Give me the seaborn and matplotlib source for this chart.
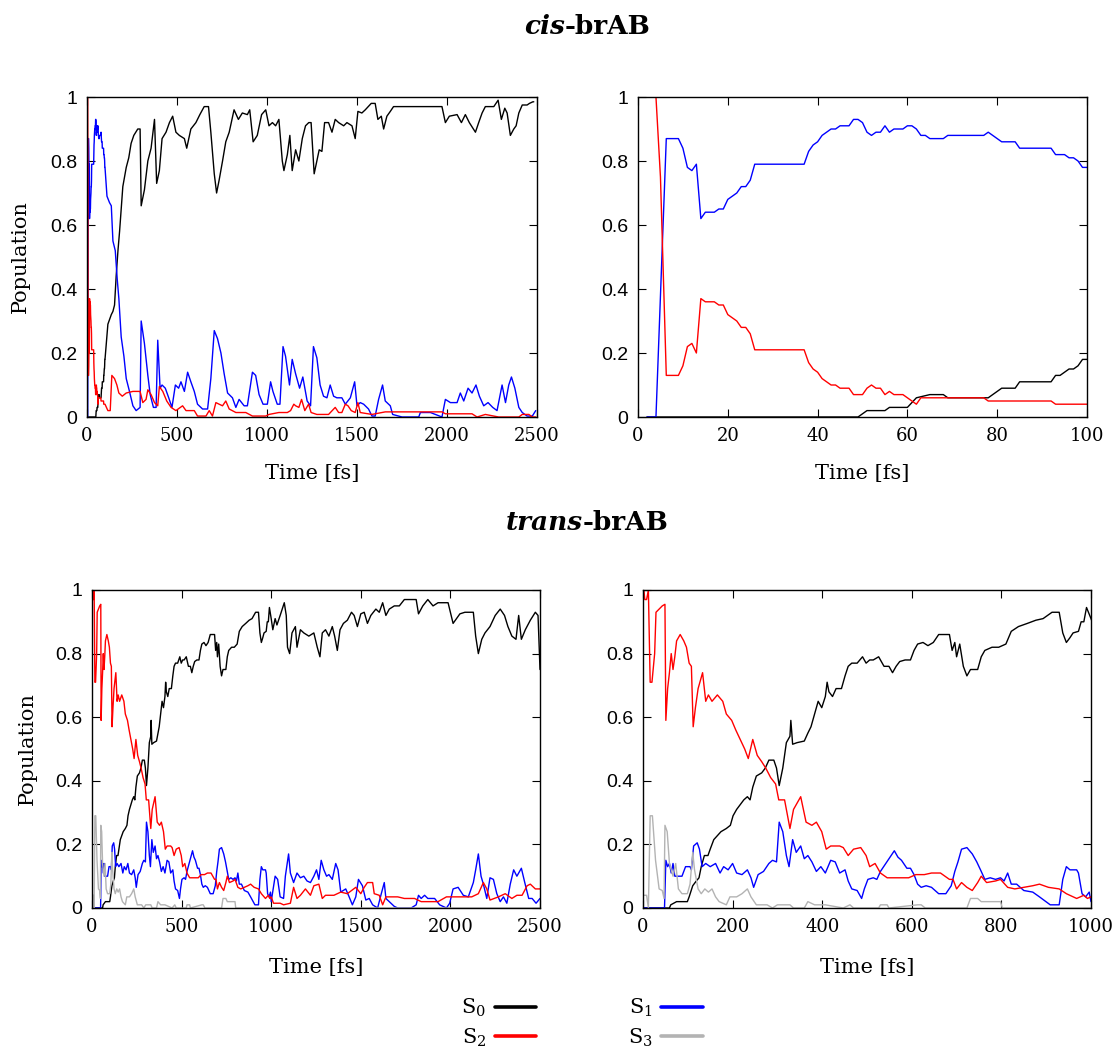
import numpy as np
import pandas as pd
import matplotlib
matplotlib.use("Agg")
import matplotlib.pyplot as plt
import seaborn as sns

# ---------------- cis-brAB state populations (time [fs], population) ----------------
cis_s0 = [(2, 0), (49, 0), (51, 0.02), (55, 0.02), (56, 0.03), (60, 0.03), (62, 0.06), (65, 0.07),
          (68, 0.07), (69, 0.06), (78, 0.06), (79, 0.07), (81, 0.09), (84, 0.09), (85, 0.11), (92, 0.11),
          (93, 0.13), (94, 0.13), (96, 0.15), (97, 0.15), (98, 0.16), (99, 0.18), (100, 0.18),
          (116, 0.29), (135, 0.32), (144, 0.33), (153, 0.35), (162, 0.44), (172, 0.52), (181, 0.58),
          (190, 0.65), (199, 0.72), (218, 0.78), (232, 0.81), (245, 0.855), (260, 0.88), (282, 0.90),
          (295, 0.90), (301, 0.66), (319, 0.71), (338, 0.80), (356, 0.84), (375, 0.93), (387, 0.73),
          (402, 0.77), (417, 0.87), (439, 0.89), (458, 0.92), (476, 0.94), (494, 0.89), (513, 0.88),
          (541, 0.87), (554, 0.84), (577, 0.90), (605, 0.92), (627, 0.945), (651, 0.97), (675, 0.97),
          (688, 0.89), (707, 0.76), (720, 0.70), (734, 0.74), (753, 0.80), (771, 0.86), (790, 0.89),
          (817, 0.96), (841, 0.93), (863, 0.95), (891, 0.945), (904, 0.96), (923, 0.86), (946, 0.88),
          (970, 0.945), (993, 0.96), (1011, 0.91), (1030, 0.92), (1048, 0.91), (1066, 0.93),
          (1085, 0.80), (1094, 0.77), (1113, 0.82), (1127, 0.88), (1140, 0.77), (1159, 0.835),
          (1177, 0.80), (1196, 0.87), (1214, 0.91), (1232, 0.92), (1245, 0.92), (1262, 0.76),
          (1277, 0.80), (1290, 0.835), (1305, 0.83), (1320, 0.92), (1342, 0.92), (1361, 0.89),
          (1379, 0.93), (1398, 0.92), (1426, 0.91), (1444, 0.92), (1472, 0.91), (1490, 0.87),
          (1505, 0.955), (1527, 0.95), (1546, 0.96), (1579, 0.98), (1601, 0.98), (1616, 0.93),
          (1635, 0.94), (1648, 0.90), (1666, 0.94), (1685, 0.955), (1703, 0.97), (1972, 0.97),
          (1991, 0.92), (2013, 0.94), (2056, 0.945), (2080, 0.92), (2102, 0.945), (2124, 0.92),
          (2158, 0.89), (2176, 0.92), (2195, 0.95), (2213, 0.97), (2260, 0.97), (2284, 0.99),
          (2302, 0.93), (2321, 0.965), (2334, 0.95), (2352, 0.88), (2371, 0.90), (2384, 0.91),
          (2399, 0.95), (2418, 0.975), (2445, 0.975), (2458, 0.98), (2477, 0.985), (2482, 0.985)]

cis_s1 = [(2, 0), (4, 0), (6.3, 0.87), (9, 0.87), (10, 0.84), (11, 0.78), (12, 0.77), (13, 0.79),
          (14, 0.62), (15, 0.64), (17, 0.64), (18, 0.65), (19, 0.65), (20, 0.68), (22, 0.70), (23, 0.72),
          (24, 0.72), (25, 0.74), (26, 0.79), (37, 0.79), (38, 0.83), (39, 0.85), (40, 0.86), (41, 0.88),
          (43, 0.90), (44, 0.90), (45, 0.91), (47, 0.91), (48, 0.93), (49, 0.93), (50, 0.92), (51, 0.89),
          (52, 0.88), (53, 0.89), (54, 0.89), (55, 0.91), (56, 0.89), (57, 0.90), (59, 0.90), (60, 0.91),
          (61, 0.91), (62, 0.90), (63, 0.88), (64, 0.88), (65, 0.87), (68, 0.87), (69, 0.88), (77, 0.88),
          (78, 0.89), (79, 0.88), (81, 0.86), (84, 0.86), (85, 0.84), (92, 0.84), (93, 0.82), (95, 0.82),
          (96, 0.81), (97, 0.81), (98, 0.80), (99, 0.78), (100, 0.78),
          (111, 0.69), (125, 0.67), (135, 0.66), (144, 0.55), (157, 0.52), (168, 0.43), (177, 0.37),
          (190, 0.25), (205, 0.19), (218, 0.12), (236, 0.08), (255, 0.035), (273, 0.02), (295, 0.03),
          (301, 0.30), (319, 0.23), (338, 0.13), (351, 0.07), (369, 0.03), (384, 0.03), (393, 0.24),
          (406, 0.09), (417, 0.10), (435, 0.09), (454, 0.06), (472, 0.03), (491, 0.10), (509, 0.09),
          (522, 0.11), (541, 0.08), (559, 0.14), (577, 0.11), (596, 0.08), (614, 0.04), (642, 0.025),
          (670, 0.025), (688, 0.12), (707, 0.27), (725, 0.245), (744, 0.20), (762, 0.135), (781, 0.075),
          (808, 0.06), (827, 0.03), (845, 0.055), (873, 0.035), (891, 0.035), (919, 0.14), (937, 0.13),
          (956, 0.07), (978, 0.04), (1002, 0.04), (1020, 0.11), (1033, 0.08), (1057, 0.04), (1072, 0.04),
          (1089, 0.22), (1103, 0.19), (1125, 0.10), (1140, 0.18), (1159, 0.135), (1181, 0.09),
          (1199, 0.125), (1223, 0.05), (1242, 0.035), (1258, 0.22), (1277, 0.185), (1295, 0.10),
          (1314, 0.065), (1333, 0.06), (1351, 0.10), (1370, 0.065), (1388, 0.06), (1416, 0.06),
          (1435, 0.04), (1463, 0.06), (1487, 0.11), (1500, 0.035), (1518, 0.045), (1537, 0.04),
          (1564, 0.025), (1583, 0.003), (1601, 0.003), (1620, 0.055), (1642, 0.10), (1657, 0.05),
          (1685, 0.035), (1698, 0.008), (1750, 0), (1843, 0), (1852, 0.014), (1908, 0.014), (1972, 0),
          (1991, 0.055), (2019, 0.045), (2056, 0.045), (2074, 0.075), (2093, 0.05), (2117, 0.09),
          (2139, 0.075), (2161, 0.10), (2180, 0.065), (2204, 0.035), (2228, 0.045), (2254, 0.03),
          (2278, 0.02), (2306, 0.10), (2325, 0.045), (2343, 0.10), (2358, 0.125), (2377, 0.09),
          (2399, 0.03), (2418, 0.014), (2445, 0.003), (2474, 0.003), (2493, 0.02)]

cis_s2 = [(2, 1.0), (4, 1.0), (5, 0.75), (6.3, 0.13), (9, 0.13), (10, 0.16), (11, 0.22), (12, 0.23),
          (13, 0.20), (14, 0.37), (15, 0.36), (17, 0.36), (18, 0.35), (19, 0.35), (20, 0.32), (22, 0.30),
          (23, 0.28), (24, 0.28), (25, 0.26), (26, 0.21), (37, 0.21), (38, 0.17), (39, 0.15), (40, 0.14),
          (41, 0.12), (43, 0.10), (44, 0.10), (45, 0.09), (47, 0.09), (48, 0.07), (50, 0.07), (51, 0.09),
          (52, 0.10), (53, 0.09), (54, 0.09), (55, 0.07), (56, 0.08), (57, 0.07), (59, 0.07), (60, 0.06),
          (61, 0.05), (62, 0.04), (63, 0.06), (77, 0.06), (78, 0.05), (92, 0.05), (93, 0.04), (100, 0.04),
          (116, 0.02), (129, 0.02), (138, 0.13), (153, 0.12), (166, 0.10), (177, 0.075), (196, 0.065),
          (218, 0.075), (255, 0.08), (295, 0.08), (310, 0.045), (328, 0.055), (338, 0.085), (356, 0.07),
          (375, 0.045), (393, 0.035), (402, 0.095), (421, 0.08), (443, 0.05), (467, 0.03), (494, 0.02),
          (531, 0.035), (550, 0.02), (596, 0.02), (614, 0.003), (661, 0.003), (679, 0.02), (697, 0.003),
          (716, 0.045), (734, 0.04), (753, 0.035), (771, 0.05), (790, 0.025), (827, 0.014), (882, 0.014),
          (919, 0.003), (993, 0.003), (1011, 0.008), (1066, 0.014), (1113, 0.014), (1131, 0.02),
          (1149, 0.04), (1159, 0.035), (1177, 0.03), (1192, 0.055), (1210, 0.02), (1231, 0.04),
          (1245, 0.014), (1277, 0.008), (1342, 0.008), (1379, 0.03), (1398, 0.014), (1416, 0.014),
          (1435, 0.04), (1450, 0.035), (1468, 0.02), (1490, 0.014), (1505, 0.045), (1518, 0.014),
          (1583, 0.008), (1657, 0.016), (1972, 0.016), (1991, 0.01), (2139, 0.01), (2167, 0),
          (2213, 0.008), (2287, 0), (2399, 0), (2418, 0.008), (2455, 0.008), (2474, 0), (2493, 0)]

# ---------------- trans-brAB state populations (time [fs], population) ----------------
trans_s0 = [(2, 0), (59, 0), (62, 0.01), (75, 0.02), (99, 0.02), (103, 0.035), (111, 0.07), (119, 0.085),
            (125, 0.095), (130, 0.13), (137, 0.165), (145, 0.165), (150, 0.185), (158, 0.215), (174, 0.24),
            (186, 0.25), (195, 0.26), (201, 0.29), (209, 0.31), (225, 0.34), (233, 0.35), (239, 0.34),
            (245, 0.38), (253, 0.415), (265, 0.425), (273, 0.44), (281, 0.465), (292, 0.465), (298, 0.44),
            (304, 0.385), (312, 0.44), (320, 0.52), (328, 0.54), (330, 0.59), (334, 0.515), (344, 0.52),
            (360, 0.525), (368, 0.55), (375, 0.57), (383, 0.61), (391, 0.65), (399, 0.63), (407, 0.665),
            (411, 0.71), (415, 0.68), (423, 0.665), (431, 0.69), (443, 0.69), (451, 0.73), (458, 0.76),
            (466, 0.77), (478, 0.77), (490, 0.79), (498, 0.77), (506, 0.78), (514, 0.78), (526, 0.79),
            (538, 0.76), (549, 0.76), (557, 0.74), (565, 0.76), (573, 0.775), (585, 0.78), (597, 0.78),
            (605, 0.81), (613, 0.83), (625, 0.835), (636, 0.825), (648, 0.835), (660, 0.86), (684, 0.86),
            (690, 0.81), (696, 0.835), (700, 0.79), (707, 0.83), (715, 0.76), (723, 0.73), (731, 0.75),
            (747, 0.75), (755, 0.79), (763, 0.81), (779, 0.82), (794, 0.82), (810, 0.83), (822, 0.87),
            (838, 0.885), (858, 0.895), (877, 0.905), (893, 0.91), (913, 0.93), (929, 0.93), (937, 0.865),
            (945, 0.835), (953, 0.85), (960, 0.865), (972, 0.87), (978, 0.90), (984, 0.90), (990, 0.945),
            (1000, 0.91), (1009, 0.875), (1022, 0.91), (1032, 0.89), (1050, 0.92), (1073, 0.96),
            (1084, 0.92), (1091, 0.82), (1103, 0.80), (1116, 0.865), (1135, 0.885), (1144, 0.82),
            (1163, 0.875), (1182, 0.865), (1210, 0.855), (1238, 0.865), (1257, 0.82), (1272, 0.79),
            (1285, 0.865), (1303, 0.875), (1322, 0.855), (1341, 0.885), (1354, 0.855), (1369, 0.81),
            (1384, 0.875), (1403, 0.895), (1425, 0.905), (1448, 0.93), (1463, 0.92), (1481, 0.885),
            (1500, 0.925), (1519, 0.93), (1537, 0.895), (1556, 0.92), (1584, 0.94), (1603, 0.93),
            (1622, 0.96), (1640, 0.92), (1659, 0.94), (1687, 0.95), (1715, 0.95), (1743, 0.97),
            (1809, 0.97), (1822, 0.925), (1846, 0.95), (1874, 0.97), (1903, 0.95), (1931, 0.96),
            (1987, 0.96), (2015, 0.895), (2053, 0.925), (2081, 0.93), (2128, 0.93), (2141, 0.855),
            (2156, 0.80), (2175, 0.845), (2193, 0.865), (2221, 0.885), (2250, 0.92), (2278, 0.94),
            (2302, 0.92), (2321, 0.885), (2343, 0.855), (2366, 0.845), (2381, 0.92), (2396, 0.845),
            (2418, 0.875), (2446, 0.905), (2474, 0.93), (2489, 0.92), (2500, 0.75)]

trans_s1 = [(2, 0), (48, 0), (51, 0.15), (55, 0.13), (59, 0.14), (63, 0.11), (67, 0.14), (71, 0.10),
            (87, 0.10), (95, 0.13), (105, 0.13), (108, 0.12), (113, 0.195), (121, 0.205), (126, 0.185),
            (132, 0.13), (140, 0.14), (150, 0.13), (162, 0.14), (172, 0.11), (180, 0.13), (190, 0.12),
            (200, 0.14), (209, 0.11), (221, 0.105), (233, 0.12), (241, 0.095), (247, 0.065), (257, 0.105),
            (269, 0.115), (281, 0.14), (289, 0.15), (298, 0.145), (304, 0.27), (312, 0.24), (320, 0.165),
            (326, 0.13), (334, 0.215), (342, 0.175), (352, 0.195), (360, 0.155), (368, 0.165),
            (377, 0.145), (387, 0.115), (397, 0.13), (407, 0.11), (419, 0.15), (429, 0.145), (439, 0.11),
            (451, 0.12), (458, 0.085), (466, 0.06), (478, 0.055), (488, 0.03), (494, 0.06), (502, 0.09),
            (514, 0.095), (522, 0.09), (530, 0.115), (542, 0.14), (549, 0.155), (561, 0.18), (569, 0.16),
            (577, 0.15), (589, 0.125), (597, 0.125), (605, 0.105), (613, 0.075), (621, 0.065),
            (632, 0.07), (644, 0.065), (660, 0.045), (676, 0.045), (688, 0.07), (696, 0.115),
            (703, 0.145), (711, 0.185), (723, 0.19), (735, 0.17), (745, 0.145), (755, 0.115), (763, 0.09),
            (775, 0.095), (787, 0.09), (798, 0.095), (806, 0.085), (814, 0.11), (822, 0.075), (834, 0.075),
            (850, 0.055), (870, 0.05), (885, 0.035), (909, 0.01), (929, 0.01), (937, 0.09), (945, 0.13),
            (953, 0.12), (968, 0.12), (972, 0.11), (980, 0.045), (988, 0.035), (996, 0.05), (1000, 0.02),
            (1022, 0.10), (1036, 0.09), (1050, 0.035), (1069, 0.03), (1079, 0.10), (1097, 0.17),
            (1107, 0.11), (1125, 0.08), (1144, 0.11), (1163, 0.095), (1182, 0.10), (1200, 0.085),
            (1219, 0.08), (1238, 0.10), (1253, 0.12), (1266, 0.09), (1279, 0.15), (1294, 0.12),
            (1309, 0.10), (1322, 0.105), (1341, 0.09), (1360, 0.14), (1373, 0.12), (1388, 0.05),
            (1416, 0.06), (1435, 0.035), (1453, 0.01), (1472, 0.035), (1487, 0.09), (1509, 0.07),
            (1528, 0.025), (1547, 0.03), (1566, 0.01), (1594, 0), (1612, 0.04), (1631, 0.08), (1640, 0.03),
            (1659, 0.02), (1687, 0.005), (1706, 0), (1781, 0), (1809, 0.01), (1822, 0.04), (1837, 0.03),
            (1856, 0.04), (1874, 0.03), (1912, 0.03), (1940, 0.01), (1978, 0), (1996, 0.015), (2015, 0.06),
            (2043, 0.065), (2072, 0.04), (2100, 0.035), (2128, 0.08), (2141, 0.12), (2156, 0.17),
            (2171, 0.10), (2184, 0.075), (2203, 0.03), (2221, 0.095), (2240, 0.09), (2259, 0.045),
            (2278, 0.02), (2296, 0.035), (2315, 0.015), (2334, 0.075), (2353, 0.12), (2371, 0.10),
            (2396, 0.125), (2415, 0.08), (2437, 0.03), (2456, 0.03), (2478, 0.015), (2500, 0.03)]

trans_s2 = [(2, 1.0), (4, 0.97), (8, 0.97), (12, 1.0), (16, 0.71), (20, 0.71), (26, 0.80), (29, 0.93),
            (36, 0.94), (43, 0.95), (49, 0.955), (51, 0.59), (55, 0.69), (59, 0.74), (63, 0.80), (67, 0.75),
            (71, 0.79), (75, 0.84), (83, 0.86), (91, 0.84), (97, 0.82), (103, 0.77), (108, 0.76),
            (112, 0.57), (117, 0.63), (123, 0.69), (133, 0.74), (140, 0.65), (146, 0.67), (154, 0.65),
            (166, 0.67), (178, 0.65), (186, 0.61), (198, 0.59), (207, 0.56), (217, 0.53), (227, 0.50),
            (235, 0.47), (245, 0.53), (255, 0.48), (265, 0.46), (274, 0.44), (285, 0.41), (296, 0.39),
            (303, 0.34), (316, 0.34), (328, 0.25), (336, 0.31), (352, 0.35), (364, 0.27), (377, 0.26),
            (387, 0.27), (399, 0.24), (409, 0.185), (419, 0.195), (439, 0.195), (447, 0.19), (458, 0.165),
            (470, 0.185), (486, 0.19), (498, 0.165), (506, 0.13), (518, 0.14), (530, 0.11), (545, 0.095),
            (565, 0.095), (593, 0.095), (609, 0.105), (628, 0.105), (644, 0.11), (664, 0.11), (684, 0.09),
            (692, 0.09), (700, 0.06), (711, 0.08), (723, 0.065), (735, 0.055), (747, 0.08), (755, 0.10),
            (767, 0.08), (787, 0.085), (798, 0.09), (814, 0.065), (830, 0.06), (850, 0.065), (870, 0.07),
            (885, 0.075), (905, 0.065), (929, 0.06), (945, 0.045), (968, 0.03), (984, 0.04), (992, 0.03),
            (1000, 0.035), (1013, 0.015), (1050, 0.015), (1069, 0.01), (1107, 0.015), (1125, 0.065),
            (1144, 0.03), (1163, 0.04), (1191, 0.06), (1219, 0.04), (1238, 0.07), (1266, 0.075),
            (1285, 0.03), (1303, 0.04), (1350, 0.04), (1388, 0.05), (1425, 0.045), (1472, 0.065),
            (1500, 0.045), (1519, 0.065), (1537, 0.08), (1566, 0.08), (1575, 0.045), (1603, 0.04),
            (1622, 0.01), (1640, 0.035), (1706, 0.035), (1743, 0.03), (1800, 0.03), (1837, 0.02),
            (1874, 0.02), (1931, 0.02), (1978, 0.035), (2006, 0.035), (2119, 0.035), (2156, 0.045),
            (2184, 0.08), (2203, 0.06), (2221, 0.025), (2268, 0.035), (2306, 0.045), (2343, 0.03),
            (2371, 0.04), (2400, 0.04), (2428, 0.07), (2446, 0.075), (2474, 0.06), (2500, 0.06)]

trans_s3 = [(2, 0.04), (8, 0.04), (12, 0), (16, 0.29), (21, 0.29), (28, 0.15), (36, 0.06), (43, 0.055),
            (47, 0.03), (49, 0.26), (54, 0.24), (59, 0.14), (67, 0.10), (73, 0.14), (79, 0.06),
            (87, 0.045), (99, 0.045), (105, 0.075), (111, 0.175), (115, 0.12), (123, 0.06), (130, 0.045),
            (138, 0.06), (146, 0.05), (154, 0.06), (162, 0.035), (170, 0.02), (186, 0.01), (194, 0.035),
            (209, 0.035), (221, 0.045), (233, 0.06), (241, 0.035), (253, 0.01), (277, 0.01), (289, 0),
            (300, 0.01), (328, 0.01), (336, 0), (360, 0), (368, 0.02), (383, 0.01), (407, 0.01), (447, 0),
            (462, 0.01), (470, 0), (526, 0), (530, 0.01), (545, 0.01), (549, 0), (613, 0.01), (621, 0.01),
            (630, 0), (723, 0), (731, 0.03), (747, 0.03), (755, 0.02), (798, 0.02), (802, 0), (2500, 0)]

state_labels = ["S$_0$", "S$_1$", "S$_2$", "S$_3$"]
state_colors = ["#000000", "#0000ff", "#ff0000", "#b3b3b3"]
y_ticks = [0, 0.2, 0.4, 0.6, 0.8, 1.0]
y_tick_labels = ["0", "0.2", "0.4", "0.6", "0.8", "1"]


def to_frame(series_list):
    frames = []
    for label, pts in zip(state_labels, series_list):
        t, p = zip(*pts)
        frames.append(pd.DataFrame({"time": t, "population": p, "state": label}))
    return pd.concat(frames, ignore_index=True)


cis_df = to_frame([cis_s0, cis_s1, cis_s2])
trans_df = to_frame([trans_s0, trans_s1, trans_s2, trans_s3])

sns.set_theme(style="ticks")
plt.rcParams["font.family"] = ["DejaVu Serif"]
plt.rcParams["mathtext.fontset"] = "dejavuserif"
for key in ("text.color", "axes.labelcolor", "xtick.color", "ytick.color", "axes.edgecolor"):
    plt.rcParams[key] = "black"

W, H = 1115, 1049
fig = plt.figure(figsize=(W / 100, H / 100), dpi=100)


def add_panel(left, right, top, bottom):
    return fig.add_axes([left / W, 1 - bottom / H, (right - left) / W, (bottom - top) / H])


def draw_states(ax, df):
    for label, color in zip(state_labels, state_colors):
        sub = df[df["state"] == label]
        if sub.empty:
            continue
        sns.lineplot(data=sub, x="time", y="population", ax=ax, color=color, linewidth=1.0,
                     estimator=None, sort=False, label=label, legend=False)


def style_panel(ax, xmax, xstep, ylabel, ylab_x, xlab_y):
    ax.set_xlim(0, xmax)
    ax.set_ylim(0, 1)
    ax.set_xticks(np.arange(0, xmax + 1, xstep))
    ax.set_yticks(y_ticks)
    ax.set_yticklabels(y_tick_labels)
    ax.tick_params(direction="in", top=True, right=True, length=6, width=0.8,
                   labelsize=13, colors="black", pad=7)
    for lbl in ax.get_yticklabels():
        lbl.set_fontfamily("Liberation Sans")
        lbl.set_fontsize(14)
    for sp in ax.spines.values():
        sp.set_visible(True)
        sp.set_color("black")
        sp.set_linewidth(1.0)
    ax.set_xlabel("Time [fs]", fontsize=15)
    ax.xaxis.set_label_coords(0.5, xlab_y)
    ax.xaxis.label.set_va("center")
    if ylabel:
        ax.set_ylabel("Population", fontsize=15)
        ax.yaxis.set_label_coords(ylab_x, 0.5)
        ax.yaxis.label.set_va("center")
    else:
        ax.set_ylabel("")


ax1 = add_panel(87, 537, 97, 417)
ax2 = add_panel(638, 1087, 97, 417)
ax3 = add_panel(92, 540, 590, 908)
ax4 = add_panel(643, 1091, 590, 908)

draw_states(ax1, cis_df)
draw_states(ax2, cis_df)
draw_states(ax3, trans_df)
draw_states(ax4, trans_df)

style_panel(ax1, 2500, 500, True, -0.149, -0.175)
style_panel(ax2, 100, 20, False, 0, -0.175)
style_panel(ax3, 2500, 500, True, -0.145, -0.186)
style_panel(ax4, 1000, 200, False, 0, -0.186)

# panel titles: italic prefix + bold compound name, centred as one string
renderer = fig.canvas.get_renderer()


def two_part_title(prefix, rest, xc, yc, size=19):
    a = fig.text(0, 1 - yc / H, prefix, fontsize=size, fontweight="bold", fontstyle="italic",
                 va="center", ha="left", color="black")
    b = fig.text(0, 1 - yc / H, rest, fontsize=size, fontweight="bold", va="center", ha="left",
                 color="black")
    wa = a.get_window_extent(renderer).width
    wb = b.get_window_extent(renderer).width
    x0 = xc - (wa + wb) / 2
    a.set_x(x0 / W)
    b.set_x((x0 + wa) / W)


two_part_title("cis", "-brAB", 587, 27)
two_part_title("trans", "-brAB", 587, 522)

# shared legend below the panels
handles = ax4.get_lines()[:4]
order = [0, 2, 1, 3]
leg = fig.legend([handles[i] for i in order], [state_labels[i] for i in order],
                 ncol=2, loc="center", bbox_to_anchor=(582 / W, 1 - 1023 / H),
                 frameon=False, markerfirst=False, fontsize=15, handlelength=2.0,
                 handletextpad=0.4, columnspacing=4.4, labelspacing=0.35,
                 borderpad=0.1)
for ln in leg.get_lines():
    ln.set_linewidth(2.6)

fig.savefig("out.png", dpi=100)
